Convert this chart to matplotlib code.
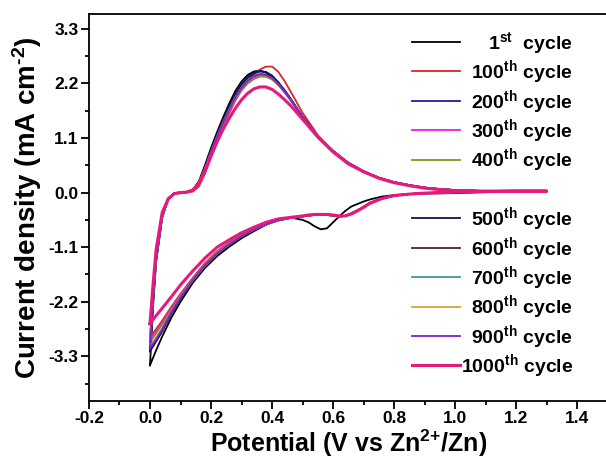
import matplotlib
matplotlib.use("Agg")
import matplotlib.pyplot as plt
from matplotlib.ticker import MultipleLocator, FormatStrFormatter
from matplotlib.lines import Line2D

# ---------------- data ----------------
potential_anodic = [0.00, 0.01, 0.02, 0.04, 0.06, 0.08, 0.10, 0.12, 0.14, 0.16, 0.18, 0.20, 0.22,
                    0.24, 0.26, 0.28, 0.30, 0.32, 0.34, 0.36, 0.38, 0.40, 0.42, 0.44, 0.46, 0.50,
                    0.55, 0.60, 0.65, 0.70, 0.75, 0.80, 0.85, 0.90, 0.95, 1.00, 1.10, 1.20, 1.30]
potential_cathodic = [1.30, 1.20, 1.10, 1.00, 0.90, 0.85, 0.80, 0.76, 0.72, 0.70, 0.68, 0.66, 0.64,
                      0.62, 0.60, 0.58, 0.56, 0.54, 0.52, 0.50, 0.46, 0.42, 0.38, 0.34, 0.30, 0.26,
                      0.22, 0.18, 0.14, 0.10, 0.07, 0.04, 0.02, 0.00]

an_1 = [-3.48, -2.30, -1.40, -0.50, -0.12, -0.01, 0.00, 0.01, 0.06, 0.22, 0.55, 0.90, 1.22, 1.52, 1.80,
        2.05, 2.24, 2.37, 2.44, 2.46, 2.42, 2.33, 2.22, 2.07, 1.90, 1.52, 1.13, 0.84, 0.60, 0.43, 0.30,
        0.21, 0.15, 0.10, 0.07, 0.05, 0.03, 0.03, 0.03]
ca_1 = [0.03, 0.02, 0.01, -0.01, -0.02, -0.03, -0.05, -0.08, -0.14, -0.18, -0.23, -0.28, -0.37, -0.48,
        -0.60, -0.72, -0.74, -0.68, -0.60, -0.55, -0.50, -0.54, -0.65, -0.78, -0.92, -1.09, -1.28, -1.52,
        -1.82, -2.20, -2.52, -2.90, -3.18, -3.48]

an_100 = [-2.92, -2.02, -1.25, -0.45, -0.13, -0.02, -0.01, 0.00, 0.02, 0.12, 0.38, 0.70, 1.02, 1.32,
          1.60, 1.86, 2.08, 2.25, 2.38, 2.48, 2.54, 2.54, 2.44, 2.26, 2.05, 1.61, 1.16, 0.84, 0.60, 0.43,
          0.30, 0.21, 0.15, 0.10, 0.07, 0.05, 0.03, 0.03, 0.03]
ca_100 = [0.03, 0.03, 0.02, 0.01, -0.01, -0.03, -0.06, -0.12, -0.21, -0.29, -0.36, -0.42, -0.47, -0.48,
          -0.46, -0.45, -0.45, -0.45, -0.46, -0.48, -0.51, -0.55, -0.62, -0.73, -0.85, -1.00, -1.18,
          -1.42, -1.72, -2.04, -2.30, -2.58, -2.75, -2.92]

an_200 = [-3.15, -2.15, -1.35, -0.48, -0.13, -0.01, 0.00, 0.01, 0.05, 0.19, 0.50, 0.84, 1.16, 1.45,
          1.73, 1.97, 2.17, 2.31, 2.40, 2.44, 2.43, 2.36, 2.23, 2.07, 1.90, 1.54, 1.14, 0.84, 0.60, 0.43,
          0.30, 0.21, 0.15, 0.10, 0.07, 0.05, 0.03, 0.03, 0.03]
ca_200 = [0.03, 0.03, 0.02, 0.01, -0.01, -0.03, -0.06, -0.12, -0.21, -0.29, -0.36, -0.42, -0.47, -0.48,
          -0.46, -0.45, -0.45, -0.45, -0.46, -0.48, -0.51, -0.56, -0.64, -0.75, -0.88, -1.04, -1.23,
          -1.47, -1.77, -2.12, -2.42, -2.76, -2.96, -3.15]

an_300 = [-2.98, -2.05, -1.28, -0.46, -0.13, -0.02, 0.00, 0.01, 0.04, 0.16, 0.44, 0.76, 1.07, 1.36,
          1.63, 1.87, 2.06, 2.20, 2.29, 2.34, 2.34, 2.29, 2.18, 2.04, 1.88, 1.53, 1.14, 0.83, 0.59, 0.43,
          0.30, 0.21, 0.15, 0.10, 0.07, 0.05, 0.03, 0.03, 0.03]
ca_300 = [0.03, 0.03, 0.02, 0.01, -0.01, -0.03, -0.06, -0.12, -0.21, -0.29, -0.36, -0.42, -0.47, -0.48,
          -0.46, -0.45, -0.45, -0.45, -0.46, -0.48, -0.51, -0.55, -0.63, -0.74, -0.86, -1.01, -1.19,
          -1.44, -1.74, -2.07, -2.34, -2.62, -2.80, -2.98]

an_400 = [-3.02, -2.07, -1.29, -0.46, -0.13, -0.02, 0.00, 0.01, 0.04, 0.16, 0.45, 0.77, 1.08, 1.37,
          1.64, 1.88, 2.07, 2.21, 2.30, 2.35, 2.34, 2.28, 2.17, 2.03, 1.87, 1.52, 1.14, 0.83, 0.59, 0.43,
          0.30, 0.21, 0.15, 0.10, 0.07, 0.05, 0.03, 0.03, 0.03]
ca_400 = [0.03, 0.03, 0.02, 0.01, -0.01, -0.03, -0.06, -0.12, -0.21, -0.29, -0.36, -0.42, -0.47, -0.48,
          -0.46, -0.45, -0.45, -0.45, -0.46, -0.48, -0.51, -0.55, -0.63, -0.74, -0.87, -1.02, -1.20,
          -1.45, -1.75, -2.09, -2.37, -2.66, -2.84, -3.02]

an_500 = [-3.20, -2.18, -1.36, -0.48, -0.13, -0.01, 0.00, 0.01, 0.05, 0.20, 0.52, 0.86, 1.18, 1.47,
          1.75, 1.99, 2.19, 2.33, 2.42, 2.45, 2.43, 2.35, 2.22, 2.06, 1.89, 1.53, 1.14, 0.84, 0.60, 0.43,
          0.30, 0.21, 0.15, 0.10, 0.07, 0.05, 0.03, 0.03, 0.03]
ca_500 = [0.03, 0.03, 0.02, 0.01, -0.01, -0.03, -0.06, -0.12, -0.21, -0.29, -0.36, -0.42, -0.47, -0.48,
          -0.46, -0.45, -0.45, -0.45, -0.46, -0.48, -0.51, -0.56, -0.64, -0.75, -0.88, -1.05, -1.24,
          -1.48, -1.78, -2.13, -2.44, -2.80, -3.00, -3.20]

an_600 = [-3.12, -2.13, -1.33, -0.47, -0.13, -0.01, 0.00, 0.01, 0.05, 0.18, 0.49, 0.82, 1.13, 1.42,
          1.69, 1.93, 2.12, 2.26, 2.35, 2.39, 2.38, 2.31, 2.19, 2.04, 1.88, 1.52, 1.14, 0.84, 0.60, 0.43,
          0.30, 0.21, 0.15, 0.10, 0.07, 0.05, 0.03, 0.03, 0.03]
ca_600 = [0.03, 0.03, 0.02, 0.01, -0.01, -0.03, -0.06, -0.12, -0.21, -0.29, -0.36, -0.42, -0.47, -0.48,
          -0.46, -0.45, -0.45, -0.45, -0.46, -0.48, -0.51, -0.56, -0.64, -0.75, -0.88, -1.04, -1.23,
          -1.47, -1.77, -2.11, -2.41, -2.75, -2.94, -3.12]

an_700 = [-3.10, -2.12, -1.32, -0.47, -0.13, -0.01, 0.00, 0.01, 0.05, 0.18, 0.48, 0.81, 1.12, 1.41,
          1.68, 1.92, 2.11, 2.25, 2.34, 2.38, 2.37, 2.31, 2.19, 2.04, 1.88, 1.52, 1.14, 0.84, 0.60, 0.43,
          0.30, 0.21, 0.15, 0.10, 0.07, 0.05, 0.03, 0.03, 0.03]
ca_700 = [0.03, 0.03, 0.02, 0.01, -0.01, -0.03, -0.06, -0.12, -0.21, -0.29, -0.36, -0.42, -0.47, -0.48,
          -0.46, -0.45, -0.45, -0.45, -0.46, -0.48, -0.51, -0.56, -0.64, -0.75, -0.88, -1.04, -1.23,
          -1.47, -1.77, -2.10, -2.40, -2.74, -2.93, -3.10]

an_800 = [-3.11, -2.12, -1.32, -0.47, -0.13, -0.01, 0.00, 0.01, 0.05, 0.18, 0.48, 0.81, 1.12, 1.41,
          1.68, 1.92, 2.11, 2.25, 2.34, 2.37, 2.36, 2.30, 2.18, 2.03, 1.87, 1.52, 1.14, 0.84, 0.60, 0.43,
          0.30, 0.21, 0.15, 0.10, 0.07, 0.05, 0.03, 0.03, 0.03]
ca_800 = [0.03, 0.03, 0.02, 0.01, -0.01, -0.03, -0.06, -0.12, -0.21, -0.29, -0.36, -0.42, -0.47, -0.48,
          -0.46, -0.45, -0.45, -0.45, -0.46, -0.48, -0.51, -0.56, -0.64, -0.75, -0.88, -1.04, -1.23,
          -1.47, -1.77, -2.10, -2.40, -2.75, -2.94, -3.11]

an_900 = [-3.14, -2.14, -1.34, -0.47, -0.13, -0.01, 0.00, 0.01, 0.05, 0.18, 0.48, 0.81, 1.12, 1.41,
          1.68, 1.92, 2.11, 2.25, 2.34, 2.38, 2.37, 2.31, 2.19, 2.04, 1.88, 1.52, 1.14, 0.84, 0.60, 0.43,
          0.30, 0.21, 0.15, 0.10, 0.07, 0.05, 0.03, 0.03, 0.03]
ca_900 = [0.03, 0.03, 0.02, 0.01, -0.01, -0.03, -0.06, -0.12, -0.21, -0.29, -0.36, -0.42, -0.47, -0.48,
          -0.46, -0.45, -0.45, -0.45, -0.46, -0.48, -0.51, -0.56, -0.64, -0.75, -0.88, -1.04, -1.23,
          -1.47, -1.77, -2.11, -2.41, -2.76, -2.96, -3.14]

an_1000 = [-2.64, -1.85, -1.15, -0.40, -0.12, -0.02, 0.00, 0.01, 0.05, 0.18, 0.45, 0.74, 1.02, 1.28,
           1.50, 1.70, 1.87, 2.00, 2.09, 2.13, 2.13, 2.08, 1.99, 1.88, 1.76, 1.48, 1.12, 0.82, 0.58, 0.42,
           0.29, 0.20, 0.14, 0.09, 0.06, 0.04, 0.03, 0.03, 0.03]
ca_1000 = [0.03, 0.03, 0.02, 0.01, -0.01, -0.03, -0.06, -0.12, -0.22, -0.30, -0.37, -0.43, -0.47, -0.47,
           -0.45, -0.44, -0.44, -0.44, -0.45, -0.47, -0.50, -0.53, -0.60, -0.70, -0.81, -0.95, -1.10,
           -1.32, -1.58, -1.86, -2.10, -2.33, -2.48, -2.64]

labels = ["1$^{\\rm st}$  cycle", "100$^{\\rm th}$ cycle", "200$^{\\rm th}$ cycle", "300$^{\\rm th}$ cycle",
          "400$^{\\rm th}$ cycle", "500$^{\\rm th}$ cycle", "600$^{\\rm th}$ cycle", "700$^{\\rm th}$ cycle",
          "800$^{\\rm th}$ cycle", "900$^{\\rm th}$ cycle", "1000$^{\\rm th}$ cycle"]
colors = ["#000000", "#e02424", "#1c1ca8", "#e61ee6", "#8c8c1e", "#141450",
          "#5c1a28", "#3a9c9c", "#d9a03c", "#7a1fd1", "#e8197c"]
anodic = [an_1, an_100, an_200, an_300, an_400, an_500, an_600, an_700, an_800, an_900, an_1000]
cathodic = [ca_1, ca_100, ca_200, ca_300, ca_400, ca_500, ca_600, ca_700, ca_800, ca_900, ca_1000]

x_ticks_major = 0.2
y_ticks_major = 1.1

# ---------------- style ----------------
plt.rcParams['font.family'] = ['Liberation Sans', 'DejaVu Sans']
plt.rcParams['font.weight'] = 'bold'
plt.rcParams['mathtext.fontset'] = 'custom'
plt.rcParams['mathtext.rm'] = 'Liberation Sans:bold'
plt.rcParams['mathtext.bf'] = 'Liberation Sans:bold'
plt.rcParams['mathtext.it'] = 'Liberation Sans:bold:italic'
plt.rcParams['mathtext.default'] = 'rm'
plt.rcParams['axes.unicode_minus'] = False

W, H = 606, 466
fig = plt.figure(figsize=(W / 100, H / 100), dpi=100)
ax = fig.add_axes([89 / W, 1 - 401 / H, (607.5 - 89) / W, (401 - 14) / H])

for i in range(len(labels)):
    xs = potential_anodic + potential_cathodic
    ys = anodic[i] + cathodic[i]
    lw = 2.2 if i == len(labels) - 1 else 1.3
    ax.plot(xs, ys, color=colors[i], lw=lw, solid_joinstyle='round')

ax.set_xlim(-0.2, 1.5)
ax.set_ylim(-4.2, 3.6)
ax.xaxis.set_major_locator(MultipleLocator(x_ticks_major))
ax.xaxis.set_minor_locator(MultipleLocator(x_ticks_major / 2))
ax.yaxis.set_major_locator(MultipleLocator(y_ticks_major))
ax.yaxis.set_minor_locator(MultipleLocator(y_ticks_major / 2))
ax.xaxis.set_major_formatter(FormatStrFormatter('%.1f'))
ax.yaxis.set_major_formatter(FormatStrFormatter('%.1f'))

for s in ax.spines.values():
    s.set_linewidth(1.3)
ax.tick_params(which='major', direction='out', length=5.5, width=1.3, labelsize=12.5, pad=2)
ax.tick_params(which='minor', direction='out', length=3, width=1.3)
for lab in ax.get_xticklabels() + ax.get_yticklabels():
    lab.set_fontweight('bold')

ax.set_xlabel("Potential (V vs Zn$^{2{+}}$/Zn)", fontsize=18, fontweight='bold', labelpad=1)
ax.set_ylabel("Current density (mA cm$^{\u2010 2}$)", fontsize=20, fontweight='bold', labelpad=3)

# ---------------- legend (drawn from series) ----------------
rows = [0, 1, 2, 3, 4, 6, 7, 8, 9, 10, 11]
for i in range(len(labels)):
    py = 42 + 29.4 * rows[i]
    lw = 2.2 if i == len(labels) - 1 else 1.3
    fig.add_artist(Line2D([412 / W, 460 / W], [1 - py / H, 1 - py / H], color=colors[i], lw=lw,
                          transform=fig.transFigure))
    fig.text(573 / W, 1 - (py + 7) / H, labels[i], ha='right', va='baseline',
             fontsize=14, fontweight='bold')

fig.savefig("out.png", dpi=100)
